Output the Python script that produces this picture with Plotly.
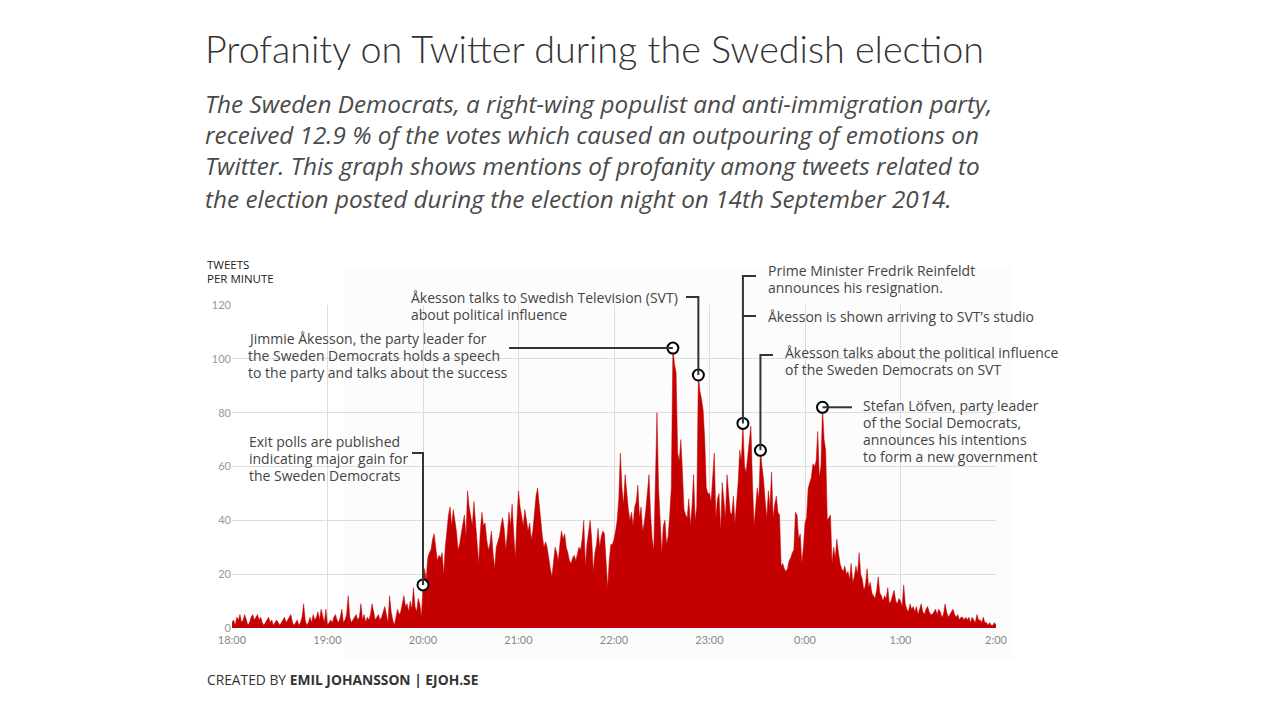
import plotly.graph_objects as go

TITLE = "Profanity on Twitter during the Swedish election"
SUBTITLE_LINES = [
    "The Sweden Democrats, a right-wing populist and anti-immigration party,",
    "received 12.9 % of the votes which caused an outpouring of emotions on",
    "Twitter. This graph shows mentions of profanity among tweets related to",
    "the election posted during the election night on 14th September 2014.",
]
Y_AXIS_TITLE = ["TWEETS", "PER MINUTE"]
FOOTER_LIGHT = "CREATED BY "
FOOTER_BOLD = "EMIL JOHANSSON | EJOH.SE"

TICK_MINUTES = [0, 60, 120, 180, 240, 300, 360, 420, 480]
TICK_LABELS = ["18:00", "19:00", "20:00", "21:00", "22:00", "23:00", "0:00", "1:00", "2:00"]
Y_TICKS = [0, 20, 40, 60, 80, 100, 120]

# tweets per minute, one value per minute from 18:00 to 2:00
TWEETS_PER_MINUTE = [
    2, 3, 1, 4, 3, 5, 2, 3, 5, 3,          # 18:00
    1, 2, 4, 5, 3, 4, 5, 3, 4, 2,          # 18:10
    1, 2, 3, 4, 2, 3, 1, 2, 3, 2,          # 18:20
    1, 2, 3, 4, 2, 3, 4, 5, 2, 1,          # 18:30
    2, 3, 1, 2, 4, 9, 3, 1, 2, 4,          # 18:40
    2, 5, 3, 4, 6, 3, 7, 4, 2, 7,          # 18:50
    1, 2, 3, 2, 4, 5, 3, 2, 4, 7,          # 19:00
    2, 3, 5, 12, 4, 2, 3, 4, 5, 3,         # 19:10
    4, 9, 3, 5, 2, 4, 3, 5, 9, 6,          # 19:20
    3, 4, 5, 3, 4, 6, 8, 5, 2, 12,         # 19:30
    6, 3, 1, 4, 7, 5, 6, 9, 12, 8,         # 19:40
    9, 6, 10, 7, 15, 8, 6, 11, 9, 4,       # 19:50
    16, 22, 18, 26, 28, 29, 33, 35, 30, 25,  # 20:00
    27, 26, 28, 20, 30, 37, 42, 45, 38, 44,  # 20:10
    40, 36, 29, 31, 35, 38, 42, 34, 51, 45,  # 20:20
    42, 38, 47, 40, 32, 24, 36, 43, 38, 39,  # 20:30
    33, 29, 31, 36, 28, 22, 30, 32, 34, 38,  # 20:40
    41, 37, 29, 35, 43, 38, 46, 35, 26, 40,  # 20:50
    51, 45, 42, 38, 44, 40, 36, 39, 33, 36,  # 21:00
    42, 49, 52, 45, 40, 34, 30, 32, 30, 25,  # 21:10
    22, 19, 26, 30, 28, 25, 31, 36, 33, 35,  # 21:20
    30, 28, 25, 24, 26, 27, 25, 28, 30, 29,  # 21:30
    33, 40, 23, 31, 36, 40, 33, 21, 28, 31,  # 21:40
    37, 30, 34, 36, 35, 26, 15, 25, 31, 31,  # 21:50
    33, 36, 40, 48, 65, 52, 46, 57, 50, 44,  # 22:00
    40, 43, 38, 45, 47, 53, 41, 45, 36, 39,  # 22:10
    44, 50, 57, 42, 33, 29, 55, 80, 52, 41,  # 22:20
    28, 38, 40, 31, 34, 42, 52, 104, 98, 95,  # 22:30
    65, 62, 70, 58, 44, 42, 41, 48, 38, 45,  # 22:40
    57, 40, 45, 94, 88, 85, 81, 70, 52, 50,  # 22:50
    50, 47, 55, 65, 41, 48, 50, 36, 54, 46,  # 23:00
    41, 57, 48, 43, 42, 49, 39, 47, 54, 66,  # 23:10
    62, 76, 60, 58, 63, 70, 75, 54, 38, 45,  # 23:20
    52, 48, 66, 60, 55, 47, 41, 51, 45, 58,  # 23:30
    41, 46, 49, 43, 42, 23, 24, 22, 21, 22,  # 23:40
    25, 26, 28, 29, 43, 42, 33, 35, 24, 30,  # 23:50
    39, 41, 52, 54, 56, 61, 60, 62, 73, 56,  # 0:00
    60, 82, 70, 66, 40, 41, 42, 24, 30, 26,  # 0:10
    33, 28, 24, 22, 21, 23, 20, 21, 18, 24,  # 0:20
    17, 19, 23, 20, 28, 20, 18, 14, 16, 22,  # 0:30
    15, 17, 13, 12, 11, 14, 19, 13, 12, 10,  # 0:40
    12, 11, 15, 9, 10, 12, 14, 10, 9, 11,    # 0:50
    10, 8, 16, 9, 7, 6, 9, 7, 8, 6,          # 1:00
    8, 5, 7, 9, 6, 5, 7, 8, 6, 5,            # 1:10
    5, 6, 7, 5, 7, 6, 4, 5, 9, 6,            # 1:20
    4, 5, 6, 7, 5, 4, 5, 3, 4, 4,            # 1:30
    3, 4, 3, 4, 2, 4, 3, 2, 5, 3,            # 1:40
    3, 2, 4, 2, 2, 1, 2, 1, 1, 2,            # 1:50
    1,                                       # 2:00
]
MINUTES = list(range(len(TWEETS_PER_MINUTE)))

# annotated events (minute after 18:00)
EVENT_MINUTES = [120, 277, 293, 321, 332, 371]
EVENT_TEXTS = [
    ["Exit polls are published", "indicating major gain for", "the Sweden Democrats"],
    ["Jimmie Åkesson, the party leader for", "the Sweden Democrats holds a speech",
     "to the party and talks about the success"],
    ["Åkesson talks to Swedish Television (SVT)", "about political influence"],
    ["Prime Minister Fredrik Reinfeldt", "announces his resignation."],
    ["Åkesson talks about the political influence", "of the Sweden Democrats on SVT"],
    ["Stefan Löfven, party leader", "of the Social Democrats,",
     "announces his intentions", "to form a new government"],
]
EXTRA_TEXT = "Åkesson is shown arriving to SVT’s studio"
EVENT_VALUES = [TWEETS_PER_MINUTE[m] for m in EVENT_MINUTES]

OFF = 8  # page body margin
W, H = 1280 - OFF, 707 - OFF
ML, MT = 232 - OFF, 305 - OFF
PW, PH = 764, 323
MR, MB = W - ML - PW, H - MT - PH
XMAX, YMAX = 480, 120


def X(px):
    return (px - OFF - ML) / PW


def Y(py):
    return (H - MB - (py - OFF)) / PH


def ex(i):
    return EVENT_MINUTES[i] / XMAX


def ey(i):
    return EVENT_VALUES[i] / YMAX


RED = "#c40000"
LINE = "#333333"
TXT = "#444444"
LINE_H = 17

fig = go.Figure()
fig.add_trace(go.Scatter(
    x=MINUTES, y=TWEETS_PER_MINUTE, mode="lines", fill="tozeroy",
    line=dict(color=RED, width=0.5), fillcolor=RED, hoverinfo="skip",
))
fig.add_trace(go.Scatter(
    x=EVENT_MINUTES, y=EVENT_VALUES, mode="markers", cliponaxis=False,
    marker=dict(symbol="circle", size=11, color="white", line=dict(color="black", width=2)),
    hoverinfo="skip",
))

shapes = []
shapes.append(dict(type="rect", xref="paper", yref="paper", layer="below",
                   x0=X(344), x1=X(1013), y0=Y(660), y1=Y(267),
                   fillcolor="#fcfcfc", line=dict(width=0)))


def path(d):
    shapes.append(dict(type="path", xref="paper", yref="paper", path=d,
                       line=dict(color=LINE, width=2)))


path(f"M {X(412)} {Y(453)} L {ex(0)} {Y(453)} L {ex(0)} {ey(0)}")
path(f"M {X(509)} {ey(1)} L {ex(1)} {ey(1)}")
path(f"M {X(686)} {Y(297)} L {ex(2)} {Y(297)} L {ex(2)} {ey(2)}")
path(f"M {X(756)} {Y(276)} L {ex(3)} {Y(276)} L {ex(3)} {ey(3)}")
path(f"M {ex(3)} {Y(316)} L {X(756)} {Y(316)}")
path(f"M {X(773)} {Y(355)} L {ex(4)} {Y(355)} L {ex(4)} {ey(4)}")
path(f"M {ex(5)} {ey(5)} L {X(852)} {ey(5)}")

ann = []


def text(t, px, py, size, color, family="Open Sans", weight=400):
    ann.append(dict(text=t, xref="paper", yref="paper", x=X(px), y=Y(py),
                    xanchor="left", yanchor="middle", align="left", showarrow=False,
                    font=dict(family=family, size=size, color=color, weight=weight)))


label_pos = [(247, 441), (246, 338), (409, 297), (766, 270), (783, 352), (861, 405)]
for (px, py), lines in zip(label_pos, EVENT_TEXTS):
    for k, ln in enumerate(lines):
        text(ln, px, py + k * LINE_H, 14, TXT)
text(EXTRA_TEXT, 766, 316, 14, TXT)

text(TITLE, 203, 48, 37.7, "#333333", family="Lato", weight=300)
for i, line in enumerate(SUBTITLE_LINES):
    text(f"<i>{line}</i>", 203, [103, 135, 166, 198][i], 24.3, "#4a4a4a")
text(Y_AXIS_TITLE[0], 205, 264, 11.5, "#222222")
text(Y_AXIS_TITLE[1], 205, 278, 11.5, "#222222")
text(f"{FOOTER_LIGHT}<b>{FOOTER_BOLD}</b>", 205, 679, 13.8, "#333333")

fig.update_layout(
    width=W, height=H,
    margin=dict(l=ML, r=MR, t=MT, b=MB, pad=0),
    paper_bgcolor="white", plot_bgcolor="rgba(0,0,0,0)",
    showlegend=False, shapes=shapes, annotations=ann,
    xaxis=dict(range=[0, XMAX], tickvals=TICK_MINUTES, ticktext=TICK_LABELS,
               showgrid=True, gridcolor="#dddddd", gridwidth=1, zeroline=False,
               showline=False, ticks="", ticklabelstandoff=4,
               tickfont=dict(family="Lato", size=11, color="#888888"), fixedrange=True),
    yaxis=dict(range=[0, YMAX], tickvals=Y_TICKS, showgrid=True, gridcolor="#dddddd",
               gridwidth=1, zeroline=False, showline=False, ticks="",
               tickfont=dict(family="Lato", size=11, color="#999999"), fixedrange=True),
)

fig.write_html("out.html")
